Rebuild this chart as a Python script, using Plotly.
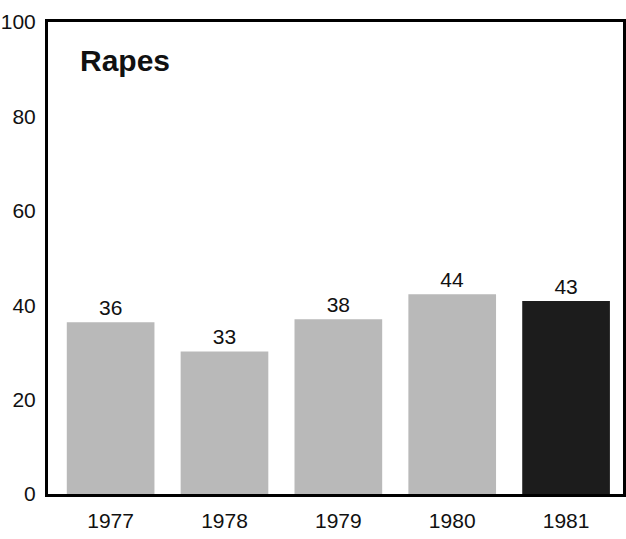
import plotly.graph_objects as go

years = ["1977", "1978", "1979", "1980", "1981"]
bar_heights = [36.4, 30.2, 37.0, 42.3, 40.9]  # heights as drawn in the scan
value_labels = ["36", "33", "38", "44", "43"]
bar_colors = ["#b9b9b9", "#b9b9b9", "#b9b9b9", "#b9b9b9", "#1c1c1c"]
y_ticks = [0, 20, 40, 60, 80, 100]

FONT = "Liberation Sans, Arial, sans-serif"

fig = go.Figure(
    go.Bar(
        x=years,
        y=bar_heights,
        text=value_labels,
        textposition="outside",
        textfont=dict(family=FONT, size=21, color="#111"),
        marker=dict(color=bar_colors, line=dict(width=0)),
        width=0.77,
        cliponaxis=False,
        hoverinfo="skip",
    )
)

fig.add_annotation(
    text="<b>Rapes</b>", xref="paper", yref="paper", x=0.053, y=0.918,
    xanchor="left", yanchor="middle", showarrow=False,
    font=dict(family=FONT, size=30, color="#111"),
)

fig.update_xaxes(
    type="category", range=[-0.55, 4.5], automargin=False,
    showline=True, linecolor="#000", linewidth=3, mirror=True,
    ticks="", tickfont=dict(family=FONT, size=21, color="#111"),
    ticklabelstandoff=6, showgrid=False,
)
fig.update_yaxes(
    range=[0, 100], tickvals=y_ticks, automargin=False,
    showline=True, linecolor="#000", linewidth=3, mirror=True,
    ticks="", tickfont=dict(family=FONT, size=21, color="#111"),
    ticklabelstandoff=5, showgrid=False, zeroline=False,
)
fig.update_layout(
    width=626, height=539,
    margin=dict(l=48, r=3, t=22, b=45),
    paper_bgcolor="white", plot_bgcolor="white",
    showlegend=False, bargap=0.2,
)

# drop the default page margin so the figure sits at the window's corner
fig.write_html(
    "out.html",
    config={"displayModeBar": False},
    post_script="document.body.style.margin='0';document.body.style.overflow='hidden';"
    "Plotly.Plots.resize(document.getElementById('{plot_id}'));",
)
